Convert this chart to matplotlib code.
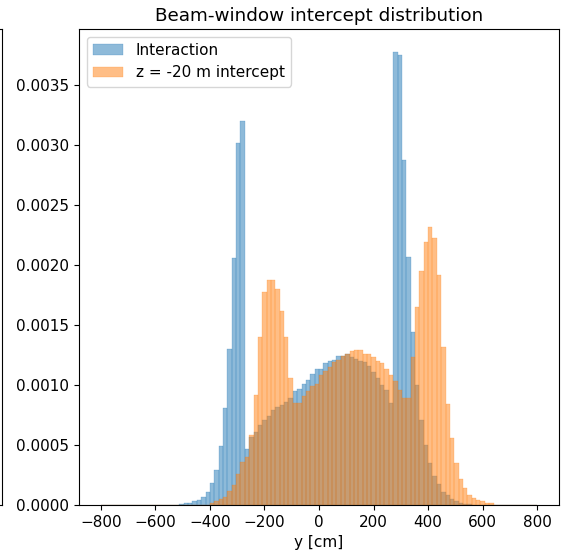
import numpy as np
import matplotlib
matplotlib.use("Agg")
import matplotlib.pyplot as plt

# 100 bins from -800 to 800 cm (16 cm wide)
bin_edges = np.linspace(-800, 800, 101)

interaction = [
    0, 0, 0, 0, 0, 0, 0, 0, 0, 0,
    0, 0, 0, 0, 0, 0, 0, 0, 0.00001, 0.000015,
    0.00002, 0.00003, 0.00004, 0.00007, 0.00011, 0.00018, 0.00029, 0.00049, 0.00081, 0.0013,
    0.00206, 0.00302, 0.0032, 0.00047, 0.00057, 0.00061, 0.00067, 0.00071, 0.00074, 0.00079,
    0.00082, 0.00083, 0.00086, 0.00089, 0.00095, 0.00097, 0.00101, 0.00104, 0.00109, 0.00113,
    0.00113, 0.00118, 0.0012, 0.00121, 0.00124, 0.00124, 0.00126, 0.00123, 0.00122, 0.0012,
    0.00119, 0.00116, 0.00111, 0.00106, 0.001, 0.00096, 0.00085, 0.00378, 0.003755, 0.00288,
    0.00207, 0.00144, 0.001, 0.00071, 0.0005, 0.00035, 0.00024, 0.000175, 0.00011, 0.00008,
    0.00005, 0.00003, 0.00002, 0.00001, 0.000005, 0, 0, 0, 0, 0,
    0, 0, 0, 0, 0, 0, 0, 0, 0, 0,
]

intercept = [
    0, 0, 0, 0, 0, 0, 0, 0, 0, 0,
    0, 0, 0, 0, 0, 0, 0, 0, 0, 0,
    0, 0, 0, 0, 0, 0.000014, 0.00003, 0.000047, 0.00007, 0.000117,
    0.00017, 0.00026, 0.00036, 0.0004, 0.00058, 0.00092, 0.0014, 0.00178, 0.00188, 0.00188,
    0.0018, 0.00162, 0.0014, 0.00106, 0.00085, 0.00085, 0.00091, 0.00095, 0.00099, 0.00101,
    0.00108, 0.00112, 0.00115, 0.00119, 0.00121, 0.00124, 0.00126, 0.00128, 0.00129, 0.00129,
    0.00126, 0.00126, 0.00123, 0.0012, 0.00118, 0.00113, 0.00108, 0.00103, 0.00096, 0.00089,
    0.00089, 0.00123, 0.00165, 0.00195, 0.00219, 0.00232, 0.00223, 0.00192, 0.00132, 0.00084,
    0.00056, 0.00035, 0.00022, 0.00014, 0.00008, 0.000055, 0.00004, 0.00003, 0.00002, 0.000014,
    0, 0, 0, 0, 0, 0, 0, 0, 0, 0,
]

labels = ["Interaction", "z = -20 m intercept"]
title = "Beam-window intercept distribution"
xlabel = "y [cm]"

plt.rcParams["font.size"] = 11

fig = plt.figure(figsize=(5.67, 5.58), dpi=100)

# partial neighbouring panel on the left (only its right edge is visible)
ax0 = fig.add_axes([-0.5, 0.095, 0.5044, 0.853])
ax0.set_xticks([])
ax0.set_yticks([])

ax = fig.add_axes([0.1393, 0.095, 0.8466, 0.853])
centers = 0.5 * (bin_edges[:-1] + bin_edges[1:])
ax.hist(centers, bins=bin_edges, weights=interaction, alpha=0.5, label=labels[0],
        color="C0", edgecolor="C0", linewidth=0.3)
ax.hist(centers, bins=bin_edges, weights=intercept, alpha=0.5, label=labels[1],
        color="C1", edgecolor="C1", linewidth=0.3)
ax.set_title(title)
ax.set_xlabel(xlabel)
ax.legend(loc="upper left")

fig.savefig("out.png", dpi=100)
